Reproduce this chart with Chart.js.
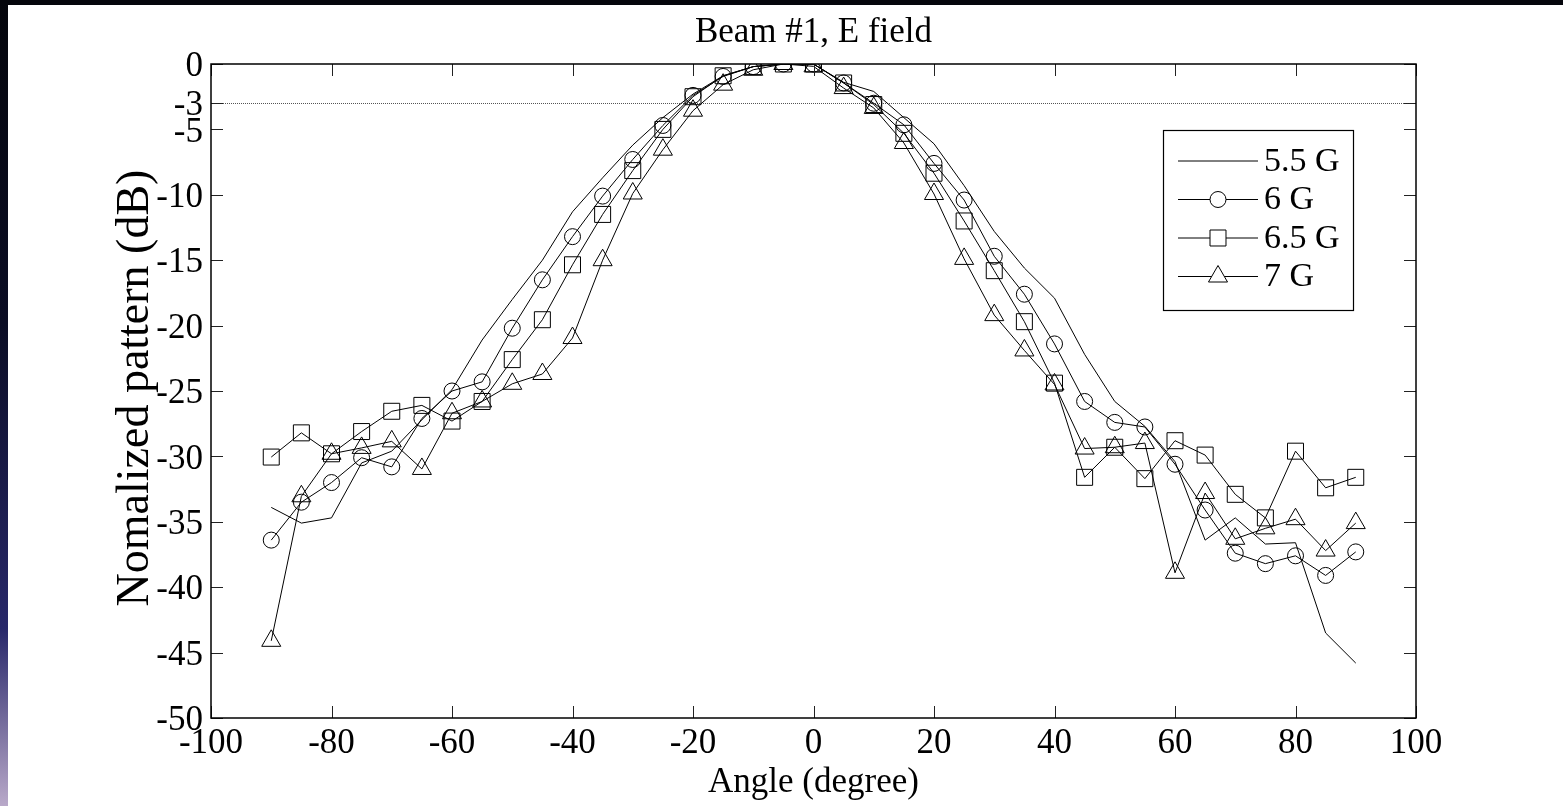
<!DOCTYPE html>
<html><head><meta charset="utf-8">
<script src="https://cdn.jsdelivr.net/npm/chart.js@4/dist/chart.umd.min.js"></script>
<style>
html,body{margin:0;padding:0;background:#05060c;width:1563px;height:806px;overflow:hidden}
#strip{position:absolute;left:0;top:0;width:8px;height:806px;background:linear-gradient(#05060c 0%,#0b0d24 40%,#28286a 78%,#b9a9c9 100%)}
#panel{position:absolute;left:8px;top:5px;width:1555px;height:801px;background:#fff}
canvas{position:absolute;left:0;top:0}
</style></head><body>
<div id="strip"></div><div id="panel"></div>
<canvas id="c" width="1563" height="806"></canvas>
<script>
const titleText = 'Beam #1, E field';
const xTitle = 'Angle (degree)';
const yTitle = 'Nomalized pattern (dB)';
const seriesNames = ['5.5 G', '6 G', '6.5 G', '7 G'];
const angles = [-90,-85,-80,-75,-70,-65,-60,-55,-50,-45,-40,-35,-30,-25,-20,-15,-10,-5,0,5,10,15,20,25,30,35,40,45,50,55,60,65,70,75,80,85,90];
const g55 = [-33.9,-35.1,-34.7,-30.5,-29.6,-27.2,-24.9,-21.1,-18.0,-15.0,-11.3,-8.7,-6.2,-4.1,-2.3,-0.9,-0.2,0,0,-1.4,-2.1,-4.1,-6.1,-9.3,-12.8,-15.6,-17.9,-22.2,-25.8,-27.7,-30.4,-36.4,-34.7,-36.7,-36.6,-43.5,-45.8];
const g6 = [-36.4,-33.5,-32.0,-30.1,-30.8,-27.1,-25.0,-24.3,-20.2,-16.5,-13.2,-10.1,-7.3,-4.7,-2.4,-0.95,-0.2,0,0,-1.45,-3.0,-4.65,-7.6,-10.4,-14.7,-17.6,-21.4,-25.8,-27.4,-27.75,-30.6,-34.1,-37.4,-38.2,-37.6,-39.1,-37.3];
const g65 = [-30.05,-28.2,-29.8,-28.1,-26.55,-26.1,-27.3,-25.8,-22.6,-19.55,-15.35,-11.5,-8.15,-5.0,-2.5,-0.9,-0.2,0,0,-1.45,-3.1,-5.3,-8.35,-12.0,-15.8,-19.7,-24.4,-31.6,-29.3,-31.7,-28.8,-29.9,-32.9,-34.7,-29.6,-32.4,-31.6];
const g7 = [-44.1,-33.05,-29.8,-29.35,-28.85,-30.96,-26.7,-25.8,-24.45,-23.7,-20.95,-15.0,-9.9,-6.55,-3.57,-1.58,-0.44,0,-0.18,-1.84,-3.36,-6.04,-9.94,-14.9,-19.2,-21.9,-24.5,-29.4,-29.3,-28.98,-38.9,-32.8,-36.3,-35.5,-34.8,-37.2,-35.1];
const xTicks = [-100,-80,-60,-40,-20,0,20,40,60,80,100];
const yTicks = [0,-3,-5,-10,-15,-20,-25,-30,-35,-40,-45,-50];
const refLevel = -3;

const FONT = 'Liberation Serif, Times New Roman, serif';
const pts = arr => angles.map((a,i)=>({x:a,y:arr[i]}));
const styles = [
  {pointStyle:'circle', pointRadius:0},
  {pointStyle:'circle', pointRadius:8},
  {pointStyle:'rect', pointRadius:11.3},
  {pointStyle:'triangle', pointRadius:11}
];
const datas = [g55,g6,g65,g7];
const datasets = datas.map((d,i)=>({
  label: seriesNames[i],
  data: pts(d),
  borderColor:'#000', borderWidth:1,
  pointStyle: styles[i].pointStyle,
  pointRadius: styles[i].pointRadius,
  pointHoverRadius: styles[i].pointRadius,
  pointBorderColor:'#000', pointBorderWidth:1,
  pointBackgroundColor:'rgba(0,0,0,0)',
  backgroundColor:'rgba(0,0,0,0)',
  tension:0, fill:false
}));

function drawMarker(ctx, style, r, x, y){
  if (r <= 0) return;
  if (window.Chart && Chart.helpers && Chart.helpers.drawPoint){
    Chart.helpers.drawPoint(ctx, {pointStyle:style, radius:r, borderWidth:1, rotation:0}, x, y);
    return;
  }
  ctx.beginPath();
  if (style==='circle') ctx.arc(x,y,r,0,Math.PI*2);
  else if (style==='rect'){ const s=r*Math.SQRT1_2; ctx.rect(x-s,y-s,2*s,2*s); }
  else { ctx.moveTo(x,y-r); ctx.lineTo(x+r*0.866,y+r/2); ctx.lineTo(x-r*0.866,y+r/2); ctx.closePath(); }
  ctx.stroke();
}

const frame = {
  id:'frame',
  beforeDatasetsDraw(chart){
    const {ctx, chartArea:a, scales:{y}} = chart;
    ctx.save();
    ctx.strokeStyle='#555'; ctx.lineWidth=1; ctx.setLineDash([1,1]);
    const yy = Math.round(y.getPixelForValue(refLevel))+0.5;
    ctx.beginPath(); ctx.moveTo(a.left,yy); ctx.lineTo(a.right,yy); ctx.stroke();
    ctx.restore();
  },
  afterDraw(chart){
    const {ctx, chartArea:a, scales:{x,y}} = chart;
    ctx.save();
    ctx.strokeStyle='#222'; ctx.lineWidth=1;
    const TL = 12;
    ctx.beginPath();
    xTicks.forEach(v=>{
      const px = Math.round(x.getPixelForValue(v))+0.5;
      ctx.moveTo(px,a.bottom); ctx.lineTo(px,a.bottom-TL);
      ctx.moveTo(px,a.top); ctx.lineTo(px,a.top+TL);
    });
    yTicks.forEach(v=>{
      const py = Math.round(y.getPixelForValue(v))+0.5;
      ctx.moveTo(a.left,py); ctx.lineTo(a.left+TL,py);
      ctx.moveTo(a.right,py); ctx.lineTo(a.right-TL,py);
    });
    ctx.stroke();
    ctx.strokeStyle='#000'; ctx.lineWidth=1.5;
    ctx.strokeRect(a.left, a.top, a.right-a.left, a.bottom-a.top);
    ctx.fillStyle='#000';
    ctx.font = '35px ' + FONT;
    ctx.textAlign='center'; ctx.textBaseline='middle';
    ctx.fillText(titleText, (a.left+a.right)/2, 33);
    ctx.fillText(xTitle, (a.left+a.right)/2, 783);
    ctx.save();
    ctx.translate(136, 388);
    ctx.rotate(-Math.PI/2);
    ctx.font = '46px ' + FONT;
    ctx.fillText(yTitle, 0, 0);
    ctx.restore();
    const L = {x0:1163, y0:130, x1:1353, y1:310};
    ctx.fillStyle='#fff';
    ctx.fillRect(L.x0, L.y0, L.x1-L.x0, L.y1-L.y0);
    ctx.strokeStyle='#000'; ctx.lineWidth=1.2;
    ctx.strokeRect(L.x0+0.5, L.y0+0.5, L.x1-L.x0, L.y1-L.y0);
    ctx.font = '34px ' + FONT;
    ctx.textAlign='left'; ctx.textBaseline='middle';
    seriesNames.forEach((n,i)=>{
      const yy = 161 + i*38.5;
      ctx.strokeStyle='#000'; ctx.lineWidth=1;
      ctx.beginPath(); ctx.moveTo(1178, yy); ctx.lineTo(1258, yy); ctx.stroke();
      ctx.fillStyle='#fff';
      drawMarker(ctx, styles[i].pointStyle, styles[i].pointRadius, 1218, yy);
      ctx.fillStyle='#000';
      ctx.fillText(n, 1264, yy+1);
    });
    ctx.restore();
  }
};

new Chart(document.getElementById('c'), {
  type:'line',
  data:{datasets},
  options:{
    responsive:false, animation:false, devicePixelRatio:1,
    layout:{padding:{top:64, right:147, left:0, bottom:0}},
    plugins:{legend:{display:false}, title:{display:false}, tooltip:{enabled:false}},
    events:[],
    scales:{
      x:{
        type:'linear', min:-100, max:100,
        afterBuildTicks(s){ s.ticks = xTicks.map(v=>({value:v})); },
        afterFit(s){ s.height = 88; },
        grid:{display:false, drawTicks:false},
        border:{display:false},
        ticks:{color:'#000', font:{family:FONT, size:35}, padding:5, maxRotation:0, autoSkip:false}
      },
      y:{
        type:'linear', min:-50, max:0,
        afterBuildTicks(s){ s.ticks = yTicks.map(v=>({value:v})); },
        afterFit(s){ s.width = 211; },
        grid:{display:false, drawTicks:false},
        border:{display:false},
        ticks:{color:'#000', font:{family:FONT, size:35}, padding:8, labelOffset:3, autoSkip:false}
      }
    }
  },
  plugins:[frame]
});
</script>
</body></html>
